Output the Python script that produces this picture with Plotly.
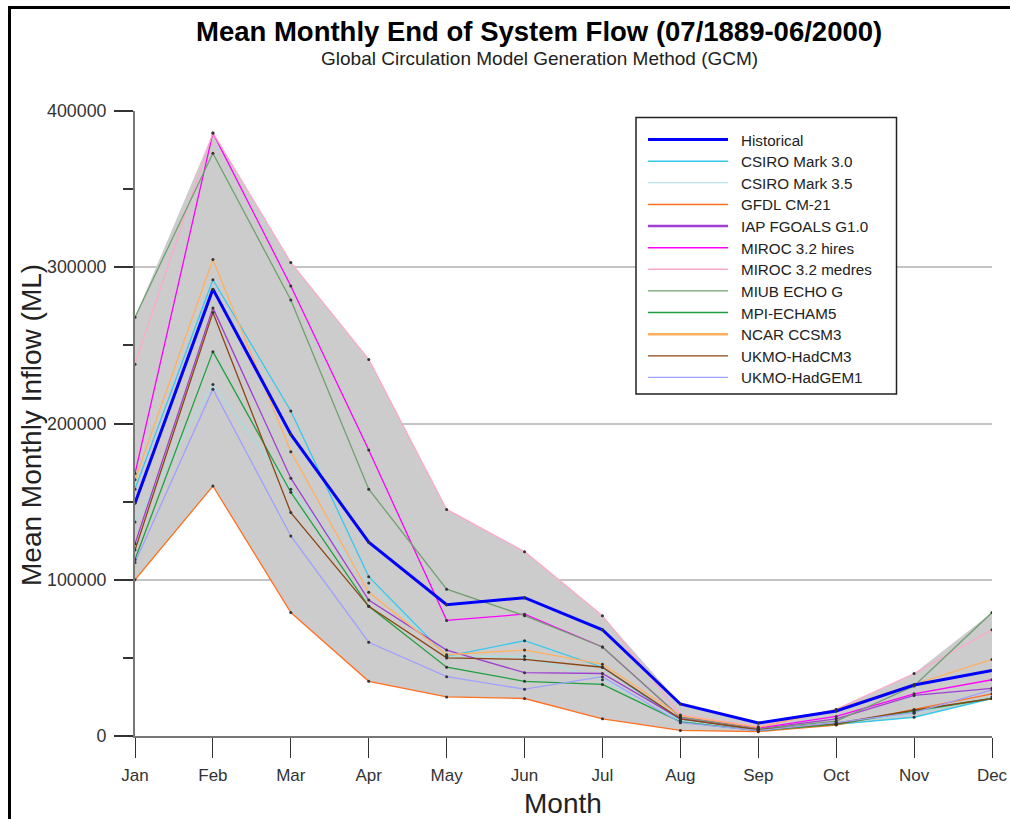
import plotly.graph_objects as go

months = ["Jan", "Feb", "Mar", "Apr", "May", "Jun", "Jul", "Aug", "Sep", "Oct", "Nov", "Dec"]

series_names = ["Historical", "CSIRO Mark 3.0", "CSIRO Mark 3.5", "GFDL CM-21", "IAP FGOALS G1.0",
                "MIROC 3.2 hires", "MIROC 3.2 medres", "MIUB ECHO G", "MPI-ECHAM5", "NCAR CCSM3",
                "UKMO-HadCM3", "UKMO-HadGEM1"]

historical = [149000, 286000, 193000, 124000, 84000, 88500, 68000, 20500, 8300, 16000, 32600, 42000]
csiro_30 = [158000, 292000, 208000, 102000, 51000, 61000, 44000, 10000, 3500, 7500, 12000, 24000]
csiro_35 = [137000, 225000, 158000, 98000, 51000, 51000, 36000, 10000, 4000, 8000, 14500, 25000]
gfdl_cm21 = [100000, 160000, 79000, 35000, 25000, 24000, 11000, 3600, 2800, 7000, 17000, 27000]
iap_fgoals = [123000, 274000, 165000, 87000, 55000, 40500, 40000, 11000, 4500, 11000, 26000, 30500]
miroc_hires = [168000, 386000, 288000, 183000, 74000, 78000, 57000, 12000, 5000, 12500, 27000, 36000]
miroc_medres = [238000, 386000, 303000, 241000, 145000, 118000, 77000, 13500, 6000, 17000, 40000, 68000]
miub_echo = [268000, 373000, 279000, 158000, 94000, 77000, 57000, 12000, 4500, 9500, 32000, 79000]
mpi_echam5 = [113000, 246000, 156000, 83000, 44000, 35000, 33000, 9000, 3500, 7500, 16000, 24000]
ncar_ccsm3 = [164000, 305000, 182000, 92000, 52000, 55000, 46000, 13000, 5500, 17000, 33000, 49000]
ukmo_hadcm3 = [119000, 271000, 143000, 83000, 50000, 49000, 44000, 11000, 4000, 8000, 16500, 24000]
ukmo_hadgem1 = [111000, 222000, 128000, 60000, 38000, 30000, 38000, 8500, 3500, 8500, 15000, 29500]

series_values = [historical, csiro_30, csiro_35, gfdl_cm21, iap_fgoals, miroc_hires, miroc_medres,
                 miub_echo, mpi_echam5, ncar_ccsm3, ukmo_hadcm3, ukmo_hadgem1]

colors = ["#0000FF", "#36C8EE", "#A8DEDE", "#FF7020", "#A040D0", "#FF00FF", "#FFA8CC",
          "#70A070", "#20A040", "#FFB060", "#8B4513", "#A0A0FF"]
widths = [3, 1.3, 1.3, 1.3, 1.3, 1.3, 1.3, 1.3, 1.3, 1.3, 1.3, 1.3]
legend_widths = [3, 1.5, 1.2, 1.5, 2.5, 1.5, 1.5, 1.2, 1.5, 2.5, 1.2, 1.2]

y_ticks = [0, 100000, 200000, 300000, 400000]

# plot-area geometry (pixels) used for paper conversions of decorations
W, H = 1010, 819
L, R, T, B = 135, 992, 111, 736


def px(x):
    return (x - L) / (R - L)


def py(y):
    return (B - y) / (B - T)


fig = go.Figure()

# envelope band
upper = [max(v[i] for v in series_values) for i in range(len(months))]
lower = [min(v[i] for v in series_values) for i in range(len(months))]
fig.add_trace(go.Scatter(x=months + months[::-1], y=upper + lower[::-1], fill="toself",
                         fillcolor="#CCCCCC", line=dict(width=0), mode="lines",
                         hoverinfo="skip", showlegend=False))

# draw model series first, historical last (on top)
order = list(range(1, len(series_names))) + [0]
for i in order:
    fig.add_trace(go.Scatter(x=months, y=series_values[i], name=series_names[i], mode="lines",
                             line=dict(color=colors[i], width=widths[i]), showlegend=False))

# data point dots
all_x = [m for v in series_values for m in months]
all_y = [val for v in series_values for val in v]
fig.add_trace(go.Scatter(x=all_x, y=all_y, mode="markers",
                         marker=dict(color="#333333", size=3), hoverinfo="skip", showlegend=False))

shapes = []
annotations = []

# manual legend
shapes.append(dict(type="rect", xref="paper", yref="paper", x0=px(636), x1=px(896.5),
                   y0=py(394), y1=py(117.5), line=dict(color="#222222", width=1.5),
                   fillcolor="white", layer="above"))
row0, step = 139.5, 21.63
for k, name in enumerate(series_names):
    yy = row0 + k * step
    shapes.append(dict(type="line", xref="paper", yref="paper", x0=px(648), x1=px(728),
                       y0=py(yy), y1=py(yy), line=dict(color=colors[k], width=legend_widths[k]),
                       layer="above"))
    annotations.append(dict(text=name, xref="paper", yref="paper", x=px(739), y=py(yy + 0.5),
                            xanchor="left", yanchor="middle", showarrow=False,
                            font=dict(size=15.2, color="#222222")))

# outer frame lines (top & left)
shapes.append(dict(type="line", xref="paper", yref="paper", x0=px(9.5), x1=px(1012),
                   y0=py(7.5), y1=py(7.5), line=dict(color="black", width=3), layer="above"))
shapes.append(dict(type="line", xref="paper", yref="paper", x0=px(9.5), x1=px(9.5),
                   y0=py(6), y1=py(821), line=dict(color="black", width=3), layer="above"))

# titles
annotations.append(dict(text="<b>Mean Monthly End of System Flow (07/1889-06/2000)</b>",
                        xref="paper", yref="paper", x=px(538.5), y=py(32), xanchor="center",
                        yanchor="middle", showarrow=False, font=dict(size=27.5, color="black")))
annotations.append(dict(text="Global Circulation Model Generation Method (GCM)",
                        xref="paper", yref="paper", x=px(539), y=py(58), xanchor="center",
                        yanchor="middle", showarrow=False, font=dict(size=19, color="#222222")))
annotations.append(dict(text="Month", xref="paper", yref="paper", x=px(563), y=py(803),
                        xanchor="center", yanchor="middle", showarrow=False,
                        font=dict(size=28, color="#222222")))
annotations.append(dict(text="Mean Monthly Inflow (ML)", xref="paper", yref="paper", x=px(31),
                        y=py(425), xanchor="center", yanchor="middle", textangle=-90,
                        showarrow=False, font=dict(size=28, color="#222222")))

fig.update_layout(
    width=W, height=H,
    margin=dict(l=L, r=W - R, t=T, b=H - B, pad=0, autoexpand=False),
    paper_bgcolor="white", plot_bgcolor="white",
    font=dict(family="Liberation Sans, Arial, sans-serif", color="#222222"),
    shapes=shapes, annotations=annotations, showlegend=False,
    xaxis=dict(type="category", categoryorder="array", categoryarray=months, automargin=False,
               range=[0, len(months) - 1], showgrid=False, zeroline=False,
               showline=True, linecolor="#777777", linewidth=2,
               ticks="outside", ticklen=20, tickwidth=1.3, tickcolor="#333333",
               tickfont=dict(size=17, color="#333333"), ticklabelstandoff=3),
    yaxis=dict(range=[0, 400000], tickvals=y_ticks, ticktext=[str(v) for v in y_ticks],
               automargin=False,
               showgrid=True, gridcolor="#C4C4C4", gridwidth=1.5, zeroline=False,
               showline=True, linecolor="#777777", linewidth=2,
               ticks="outside", ticklen=19, tickwidth=1.5, tickcolor="#333333",
               tickfont=dict(size=17.8, color="#333333"), ticklabelstandoff=4,
               minor=dict(dtick=50000, tick0=0, ticks="outside", ticklen=10, tickwidth=1.5,
                          tickcolor="#333333", showgrid=False)),
)

fig.write_html("out.html", config={"displayModeBar": False, "responsive": False},
               post_script="document.body.style.margin='0px';document.body.style.overflow='hidden';")
